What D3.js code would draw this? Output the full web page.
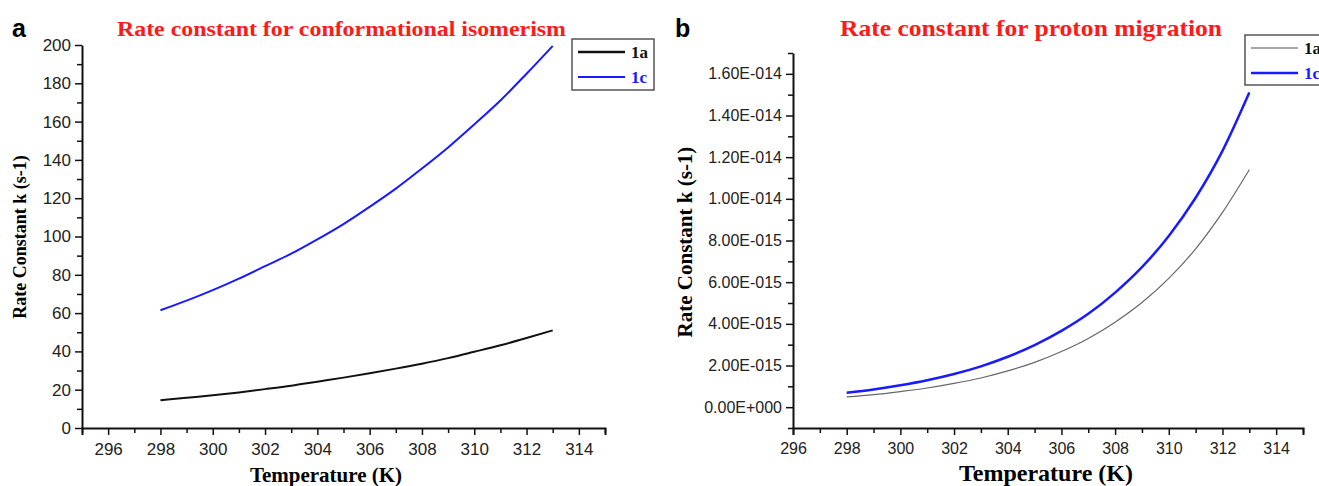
<!DOCTYPE html>
<html>
<head>
<meta charset="utf-8">
<script src="https://cdn.jsdelivr.net/npm/d3@7"></script>
<style>
  body { margin: 0; background: #fff; }
  .tick text { font-family: "Liberation Sans", Arial, sans-serif; fill: #222; }
  .serif { font-family: "Liberation Serif", "Times New Roman", serif; font-weight: bold; }
</style>
</head>
<body>
<div id="chart"></div>
<script>
var svgWidth = 1319;
var svgHeight = 486;

// temperatures (K)
var temps = [298, 299, 300, 301, 302, 303, 304, 305, 306, 307, 308, 309, 310, 311, 312, 313];

// panel a: conformational isomerism (s-1)
var confA = [14.5, 15.8, 17.1, 18.6, 20.3, 22.1, 24.2, 26.3, 28.6, 31.0, 33.6, 36.5, 39.8, 43.2, 47.0, 51.0];
var confC = [61.5, 66.5, 72.0, 78.0, 84.5, 91.0, 98.5, 106.5, 115.5, 125.0, 135.5, 146.5, 158.5, 171.0, 185.0, 199.5];

// panel b: proton migration (units of 1e-15 s-1)
var protA = [0.49, 0.60, 0.75, 0.92, 1.14, 1.40, 1.74, 2.15, 2.67, 3.30, 4.08, 5.02, 6.18, 7.60, 9.35, 11.4];
var protC = [0.69, 0.85, 1.05, 1.29, 1.59, 1.96, 2.42, 2.98, 3.66, 4.48, 5.50, 6.72, 8.22, 10.05, 12.3, 15.1];

var seriesNames = ["1a", "1c"];

var yTicksA = [0, 20, 40, 60, 80, 100, 120, 140, 160, 180, 200];
var yTicksB = [0, 2, 4, 6, 8, 10, 12, 14, 16];
var yTickLabelsB = ["0.00E+000", "2.00E-015", "4.00E-015", "6.00E-015", "8.00E-015",
                    "1.00E-014", "1.20E-014", "1.40E-014", "1.60E-014"];
var xTicks = [296, 298, 300, 302, 304, 306, 308, 310, 312, 314];

var svg = d3.select("#chart")
    .append("svg")
    .attr("width", svgWidth)
    .attr("height", svgHeight);

function drawAxes(x, y, xTickVals, xMinor, yTickVals, yMinor, yFormat, fontSize) {
    var g = svg.append("g");
    var y0 = y.range()[0];
    var x0 = x.range()[0];

    // minor ticks
    g.append("g")
        .attr("transform", `translate(0, ${y0})`)
        .call(d3.axisBottom(x).tickValues(xMinor).tickSize(5).tickFormat(""))
        .call(a => a.select(".domain").remove());
    g.append("g")
        .attr("transform", `translate(${x0}, 0)`)
        .call(d3.axisLeft(y).tickValues(yMinor).tickSize(5).tickFormat(""))
        .call(a => a.select(".domain").remove());

    g.append("g")
        .attr("transform", `translate(0, ${y0})`)
        .call(d3.axisBottom(x).tickValues(xTickVals).tickSize(7).tickSizeOuter(7).tickPadding(8).tickFormat(d3.format("d")));
    g.append("g")
        .attr("transform", `translate(${x0}, 0)`)
        .call(d3.axisLeft(y).tickValues(yTickVals).tickSize(7).tickSizeOuter(0).tickPadding(4).tickFormat(yFormat));

    g.selectAll(".domain").attr("stroke", "#111").attr("stroke-width", 2);
    g.selectAll(".tick line").attr("stroke", "#111").attr("stroke-width", 1.5);
    g.selectAll(".tick text").attr("font-size", fontSize);
    return g;
}

function drawLegend(lx, ly, w, h, colors, widths) {
    var lg = svg.append("g").attr("transform", `translate(${lx}, ${ly})`);
    lg.append("rect")
        .attr("width", w).attr("height", h)
        .attr("fill", "#fff").attr("stroke", "#555").attr("stroke-width", 1.5);
    seriesNames.forEach(function(name, i) {
        var yy = 13 + i * 25;
        lg.append("line")
            .attr("x1", 6).attr("x2", 53).attr("y1", yy).attr("y2", yy)
            .attr("stroke", colors[i]).attr("stroke-width", widths[i]);
        lg.append("text")
            .attr("class", "serif")
            .attr("x", 59).attr("y", yy + 6)
            .attr("font-size", 17)
            .attr("fill", i === 0 ? "#111" : "#1a1aff")
            .text(name);
    });
}

// ---------- panel a ----------
var xA = d3.scaleLinear().domain([295, 315]).range([82, 605]);
var yA = d3.scaleLinear().domain([0, 200]).range([428, 45]);

drawAxes(xA, yA, xTicks, d3.range(295, 316, 2), yTicksA, d3.range(10, 200, 20), d3.format("d"), 17);

var lineA = d3.line()
    .x((d, i) => xA(temps[i]))
    .y(d => yA(d))
    .curve(d3.curveMonotoneX);

svg.append("path").attr("d", lineA(confA))
    .attr("fill", "none").attr("stroke", "#111").attr("stroke-width", 2);
svg.append("path").attr("d", lineA(confC))
    .attr("fill", "none").attr("stroke", "#1a1aff").attr("stroke-width", 2);

drawLegend(572, 39, 82, 51, ["#111", "#1a1aff"], [2.5, 2]);

svg.append("text")
    .attr("x", 12).attr("y", 37)
    .attr("font-family", "Liberation Sans, Arial, sans-serif")
    .attr("font-weight", "bold").attr("font-size", 25)
    .text("a");

svg.append("text")
    .attr("class", "serif")
    .attr("x", 117).attr("y", 36)
    .attr("font-size", 22)
    .attr("textLength", 449).attr("lengthAdjust", "spacingAndGlyphs")
    .attr("fill", "#ff1a1a")
    .text("Rate constant for conformational isomerism");

svg.append("text")
    .attr("class", "serif")
    .attr("transform", "rotate(-90)")
    .attr("x", -237).attr("y", 26)
    .attr("text-anchor", "middle")
    .attr("font-size", 18)
    .text("Rate Constant k (s-1)");

svg.append("text")
    .attr("class", "serif")
    .attr("x", 326).attr("y", 482)
    .attr("text-anchor", "middle")
    .attr("font-size", 21)
    .text("Temperature (K)");

// ---------- panel b ----------
var xB = d3.scaleLinear().domain([296, 315]).range([793, 1303]);
var yB = d3.scaleLinear().domain([-1, 17]).range([428, 53]);

drawAxes(xB, yB, xTicks, d3.range(297, 316, 2), yTicksB, d3.range(-1, 18, 2), (d, i) => yTickLabelsB[i], 16);

var lineB = d3.line()
    .x((d, i) => xB(temps[i]))
    .y(d => yB(d))
    .curve(d3.curveMonotoneX);

svg.append("path").attr("d", lineB(protA))
    .attr("fill", "none").attr("stroke", "#666").attr("stroke-width", 1.2);
svg.append("path").attr("d", lineB(protC))
    .attr("fill", "none").attr("stroke", "#1a1aff").attr("stroke-width", 2.5);

drawLegend(1245, 35, 90, 50, ["#888", "#1a1aff"], [1.3, 2.5]);

svg.append("text")
    .attr("x", 675).attr("y", 37)
    .attr("font-family", "Liberation Sans, Arial, sans-serif")
    .attr("font-weight", "bold").attr("font-size", 25)
    .text("b");

svg.append("text")
    .attr("class", "serif")
    .attr("x", 840).attr("y", 36)
    .attr("font-size", 23)
    .attr("textLength", 382).attr("lengthAdjust", "spacingAndGlyphs")
    .attr("fill", "#ff1a1a")
    .text("Rate constant for proton migration");

svg.append("text")
    .attr("class", "serif")
    .attr("transform", "rotate(-90)")
    .attr("x", -242).attr("y", 692)
    .attr("text-anchor", "middle")
    .attr("font-size", 21)
    .text("Rate Constant k (s-1)");

svg.append("text")
    .attr("class", "serif")
    .attr("x", 1046).attr("y", 481)
    .attr("text-anchor", "middle")
    .attr("font-size", 24)
    .text("Temperature (K)");
</script>
</body>
</html>
